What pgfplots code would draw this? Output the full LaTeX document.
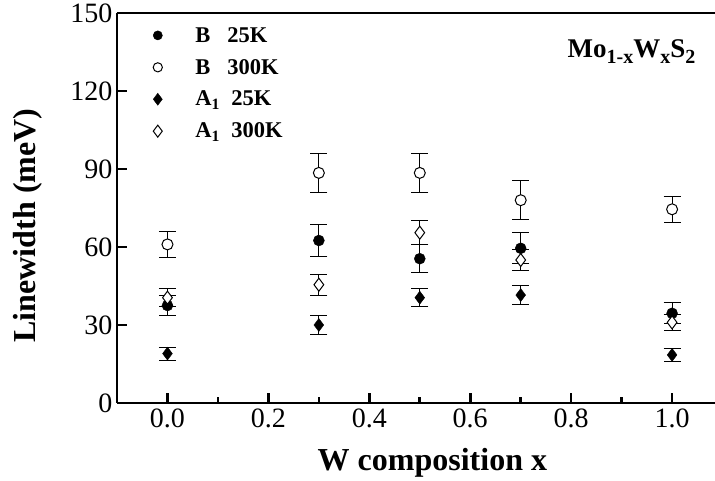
\documentclass[border=0pt]{standalone}
\usepackage{pgfplots}
\pgfplotsset{compat=1.18}
\usepackage{fontspec}
\setmainfont{Liberation Serif}
\newcommand{\sub}[1]{\raisebox{-5.5pt}{\fontsize{20}{21}\selectfont #1}}
\pgfplotsset{dialegend/.style={legend image code/.code={\draw[##1, mark size=6pt] plot coordinates {(0pt,0pt)};}}}
\begin{document}
\begin{tikzpicture}
\begin{axis}[
  name=main,
  scale only axis,
  width=598pt, height=390pt,
  xmin=-0.1, xmax=1.085, ymin=0, ymax=150,
  axis lines*=left,
  axis line style={line width=2.6pt, -},
  xtick={0,0.2,...,1.0},
  minor xtick={0.1,0.3,0.5,0.7,0.9},
  ytick={0,30,...,150},
  xticklabel style={/pgf/number format/fixed, /pgf/number format/fixed zerofill, /pgf/number format/precision=1, yshift=-2pt},
  yticklabel style={xshift=-1pt},
  /pgf/number format/assume math mode=true,
  tick align=inside,
  major tick length=10pt, minor tick length=6pt,
  tick style={line width=2.6pt, black},
  ticklabel style={font=\fontsize{28}{30}\selectfont},
  xlabel={\textbf{W composition x}},
  ylabel={\textbf{Linewidth (meV)}},
  label style={font=\fontsize{32}{34}\selectfont},
  xlabel style={at={(axis cs:0.525,0)}, anchor=base, yshift=-68pt},
  ylabel style={at={(rel axis cs:-0.1488,0.455)}, anchor=center, inner sep=0pt},
  clip=false,
  legend image code/.code={\draw[#1, mark size=4.6pt] plot coordinates {(0pt,0pt)};},
  legend style={draw=none, fill=none, at={(rel axis cs:0,1)}, anchor=north west,
    xshift=36pt, yshift=-12pt, inner sep=0pt,
    font=\fontsize{22.5}{24}\selectfont\bfseries, row sep=11.5pt,
    /tikz/every odd column/.append style={column sep=31pt}},
  legend cell align=left,
  error bars/y dir=both, error bars/y explicit,
  error bars/error bar style={line width=1pt, black},
  error bars/error mark options={rotate=90, mark size=8.5pt, line width=1pt, black},
]
\addplot[only marks, mark=*, mark size=5.5pt, mark options={fill=black}]
  table[x=x, y=y, y error=e] {
  x y e
  0.0 37.5 4
  0.3 62.5 6
  0.5 55.5 5.5
  0.7 59.5 6
  1.0 34.5 4
  };
\addlegendentry{B\hspace{0.75em}25K}
\addplot[only marks, mark=*, mark size=5.5pt, mark options={fill=white, line width=1pt}]
  table[x=x, y=y, y error=e] {
  x y e
  0.0 61 5
  0.3 88.5 7.5
  0.5 88.5 7.5
  0.7 78 7.5
  1.0 74.5 5
  };
\addlegendentry{B\hspace{0.75em}300K}
\addplot[only marks, mark=diamond*, mark size=6.5pt, mark options={fill=black}, dialegend]
  table[x=x, y=y, y error=e] {
  x y e
  0.0 19 2.5
  0.3 30 3.5
  0.5 40.5 3.5
  0.7 41.5 3.5
  1.0 18.5 2.5
  };
\addlegendentry{A\textsubscript{1}\hspace{0.5em}25K}
\addplot[only marks, mark=diamond*, mark size=6.5pt, mark options={fill=white, line width=1pt}, dialegend]
  table[x=x, y=y, y error=e] {
  x y e
  0.0 40.5 3.5
  0.3 45.5 4
  0.5 65.5 4.5
  0.7 55 4
  1.0 31 3
  };
\addlegendentry{A\textsubscript{1}\hspace{0.5em}300K}
\draw[line width=2.6pt] (rel axis cs:0,1) -- (rel axis cs:1,1);
\node[anchor=base east, font=\fontsize{27}{29}\selectfont\bfseries] at (rel axis cs:0.973,0.885) {Mo\sub{1-x}W\sub{x}S\sub{2}};
\coordinate (SW) at (rel axis cs:0,0);
\coordinate (NE) at (rel axis cs:1,1);
\end{axis}
\pgfresetboundingbox
\path[use as bounding box] ([xshift=-117pt,yshift=-78pt]SW) rectangle ([yshift=13pt]NE);
\end{tikzpicture}
\end{document}
